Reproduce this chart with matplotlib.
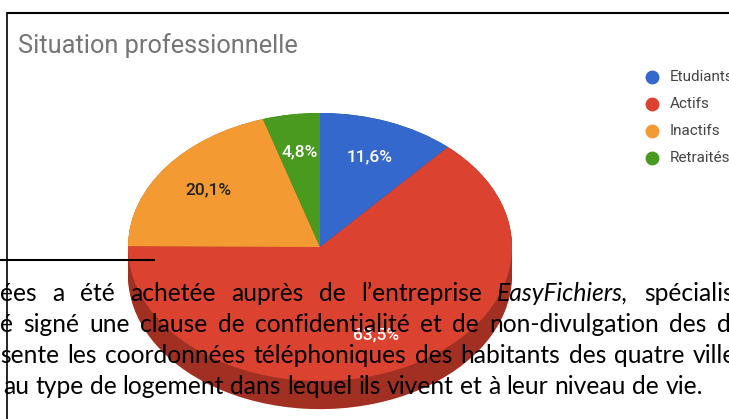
"""Situation professionnelle: 3D-looking pie inside a document page screenshot."""

import numpy as np
import matplotlib
matplotlib.use("Agg")
import matplotlib.pyplot as plt
from matplotlib.colors import to_rgb

categories = ["Etudiants", "Actifs", "Inactifs", "Retraités"]
shares = [11.6, 63.5, 20.1, 4.8]
colors = ["#3468cc", "#dc4230", "#f39a33", "#4a9a1f"]
label_colors = ["white", "white", "#222222", "white"]

title = "Situation professionnelle"

# paragraph lines of the page (cut by the screenshot), last line not justified
para_lines = [
    "ées a été achetée auprès de l’entreprise EasyFichiers, spécialis",
    "é signé une clause de confidentialité et de non-divulgation des d",
    "sente les coordonnées téléphoniques des habitants des quatre ville",
    "au type de logement dans lequel ils vivent et à leur niveau de vie.",
]
italic_words = {"EasyFichiers,"}

W, H = 729, 419
CX, CY, RX, RY = 320, 247, 192, 134   # pie centre / radii in pixels
DEPTH = 0.21

fig = plt.figure(figsize=(W / 100, H / 100), dpi=100)

# pie axes, squashed vertically for the tilted look
ax = fig.add_axes([0, 0, 1, 1])
side = [tuple(c * 0.73 for c in to_rgb(col)) for col in colors]
for d in np.linspace(DEPTH, 0.0, 16):
    ax.pie(shares, colors=side, startangle=90, counterclock=False,
           center=(0, -d), wedgeprops=dict(linewidth=0))
wedges, _, autotexts = ax.pie(
    shares, colors=colors, startangle=90, counterclock=False,
    autopct=lambda p: f"{p:.1f}%".replace(".", ","), pctdistance=0.72,
    wedgeprops=dict(linewidth=0),
    textprops=dict(family="Roboto", fontsize=12.5, fontweight="medium"))
for t, c in zip(autotexts, label_colors):
    t.set_color(c)
ax.set_aspect("auto")
ax.set_xlim(-CX / RX, (W - CX) / RX)
ax.set_ylim((CY - H) / RY, CY / RY)
ax.axis("off")

# overlay in pixel coordinates for the page elements
ov = fig.add_axes([0, 0, 1, 1])
ov.set_xlim(0, W)
ov.set_ylim(H, 0)
ov.axis("off")
renderer = fig.canvas.get_renderer()


def fit(t, width):
    w = t.get_window_extent(renderer).width
    t.set_fontsize(t.get_fontsize() * width / w)


tt = ov.text(18, 53, title, family="Roboto", fontsize=18, color="#757575",
             va="baseline", ha="left")
fit(tt, 280)

for i, (name, col) in enumerate(zip(categories, colors)):
    y = 77 + 27 * i
    ov.scatter(652, y, s=100, color=col, linewidths=0)
    ov.text(670, y, name, family="Roboto", fontsize=11, color="#444444",
            va="center", ha="left")

# chart frame lines of the page
ov.plot([7, W], [12.7, 12.7], color="black", lw=1.5, solid_capstyle="butt")
ov.plot([7, 7], [12, H], color="black", lw=1.2, solid_capstyle="butt")
ov.plot([0, 155], [260, 260], color="black", lw=1.5, solid_capstyle="butt")

# paragraph text, font size fitted on the last (non justified) line
probe = ov.text(3, 394, para_lines[-1], family="Lato", fontsize=16,
                va="baseline", ha="left")
fit(probe, 704)
fs = probe.get_fontsize()
probe.remove()

baselines = [301, 332, 363, 394]
starts = [0, 0, 0, 3]
last_word_x = [644, 717, 693, None]

for line, y, x0, xl in zip(para_lines, baselines, starts, last_word_x):
    words = line.split(" ")
    texts = [ov.text(0, y, w, family="Lato", fontsize=fs, color="black",
                     style="italic" if w in italic_words else "normal",
                     va="baseline", ha="left") for w in words]
    widths = [t.get_window_extent(renderer).width for t in texts]
    if xl is None:
        sp = ov.text(0, 0, " ", family="Lato", fontsize=fs)
        gap = max(sp.get_window_extent(renderer).width, fs * 0.3)
        sp.remove()
    else:
        gap = (xl - x0 - sum(widths[:-1])) / (len(words) - 1)
    x = x0
    for t, w in zip(texts, widths):
        t.set_x(x)
        x += w + gap

fig.savefig("out.png", dpi=100)
